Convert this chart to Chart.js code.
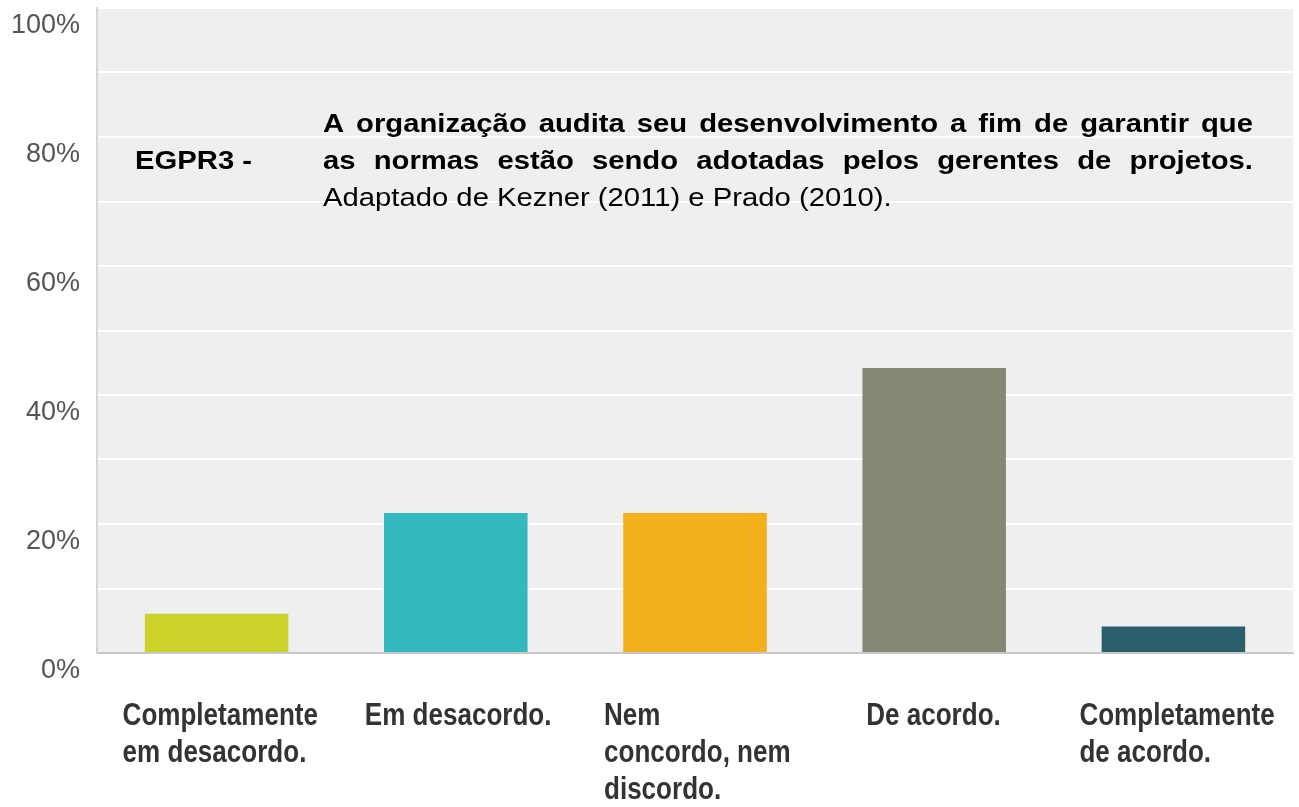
<!DOCTYPE html>
<html>
<head>
<meta charset="utf-8">
<script src="https://cdn.jsdelivr.net/npm/chart.js@4.4.1/dist/chart.umd.min.js"></script>
<style>
  html, body { margin: 0; padding: 0; background: #fff; }
  #wrap { width: 1299px; height: 807px; position: relative; }
</style>
</head>
<body>
<div id="wrap"><canvas id="chart"></canvas></div>
<script>
// data
const categories = [
  ['Completamente', 'em desacordo.'],
  ['Em desacordo.'],
  ['Nem', 'concordo, nem', 'discordo.'],
  ['De acordo.'],
  ['Completamente', 'de acordo.']
];
const percentValues = [6.1, 21.7, 21.7, 44.2, 4.1];
const barColors = ['#cdd22b', '#33b8bd', '#f4af1d', '#878775', '#2d5e6c'];
const labelledTicks = [0, 20, 40, 60, 80, 100];

const questionCode = 'EGPR3 -';
const questionLines = [
  'A organização audita seu desenvolvimento a fim de garantir que',
  'as normas estão sendo adotadas pelos gerentes de projetos.'
];
const sourceLine = 'Adaptado de Kezner (2011) e Prado (2010).';

// small horizontal shift of each category label from the category centre
const labelShift = [-94, -91, -91, -68, -94];

const plotBackground = {
  id: 'plotBackground',
  beforeDraw(chart) {
    const { ctx, chartArea: a } = chart;
    ctx.save();
    ctx.fillStyle = '#efefef';
    ctx.fillRect(a.left, a.top, a.right - a.left, a.bottom - a.top);
    ctx.restore();
  }
};

function drawJustified(ctx, text, x, y, width) {
  const words = text.split(' ');
  const widths = words.map(w => ctx.measureText(w).width);
  const total = widths.reduce((s, w) => s + w, 0);
  const gap = (width - total) / (words.length - 1);
  let cx = x;
  words.forEach((w, i) => {
    ctx.fillText(w, cx, y);
    cx += widths[i] + gap;
  });
}

const questionText = {
  id: 'questionText',
  afterDraw(chart) {
    const ctx = chart.ctx;
    const top = chart.chartArea.top;
    const sx = 1.17;
    ctx.save();
    ctx.fillStyle = '#000';
    ctx.textBaseline = 'alphabetic';
    ctx.textAlign = 'left';
    ctx.scale(sx, 1);
    ctx.font = 'bold 25px "Liberation Sans", Arial, sans-serif';
    ctx.fillText(questionCode, 135 / sx, top + 161);
    drawJustified(ctx, questionLines[0], 323 / sx, top + 124, 930 / sx);
    drawJustified(ctx, questionLines[1], 323 / sx, top + 161, 930 / sx);
    ctx.font = '25px "Liberation Sans", Arial, sans-serif';
    ctx.fillText(sourceLine, 323 / sx, top + 198);
    ctx.restore();
  }
};

// category names: bold, slightly condensed, left aligned under each bar
const categoryLabels = {
  id: 'categoryLabels',
  afterDraw(chart) {
    const ctx = chart.ctx;
    const xs = chart.scales.x;
    const base = chart.chartArea.bottom + 72;
    const sx = 0.84;
    ctx.save();
    ctx.fillStyle = '#333';
    ctx.font = 'bold 31px "Liberation Sans", Arial, sans-serif';
    ctx.textAlign = 'left';
    ctx.textBaseline = 'alphabetic';
    ctx.scale(sx, 1);
    categories.forEach((lines, i) => {
      const x = (xs.getPixelForValue(i) + labelShift[i]) / sx;
      lines.forEach((line, j) => ctx.fillText(line, x, base + j * 37));
    });
    ctx.restore();
  }
};

new Chart(document.getElementById('chart'), {
  type: 'bar',
  data: {
    labels: categories.map(l => l.join(' ')),
    datasets: [{
      data: percentValues,
      backgroundColor: barColors,
      borderWidth: 0,
      barPercentage: 0.6,
      categoryPercentage: 1.0
    }]
  },
  options: {
    responsive: true,
    maintainAspectRatio: false,
    animation: false,
    layout: {
      autoPadding: false,
      padding: { top: 8, right: 6, left: 0, bottom: 0 }
    },
    plugins: {
      legend: { display: false },
      tooltip: { enabled: false }
    },
    scales: {
      x: {
        grid: { display: false },
        border: { display: true, color: '#c8c8c8', width: 2 },
        ticks: { display: false },
        afterFit(scale) { scale.height = 154; }
      },
      y: {
        min: 0,
        max: 100,
        grid: { color: '#ffffff', lineWidth: 2, drawTicks: false },
        border: { display: true, color: '#d6d6d6', width: 2 },
        ticks: {
          stepSize: 10,
          padding: 17,
          labelOffset: 18,
          color: '#555',
          font: { family: '"Liberation Sans", Arial, sans-serif', size: 27 },
          callback: v => labelledTicks.includes(v) ? v + '%' : ''
        },
        afterFit(scale) {
          scale.width = 97;
          scale.paddingTop = 0;
          scale.paddingBottom = 0;
        }
      }
    }
  },
  plugins: [plotBackground, questionText, categoryLabels]
});
</script>
</body>
</html>
